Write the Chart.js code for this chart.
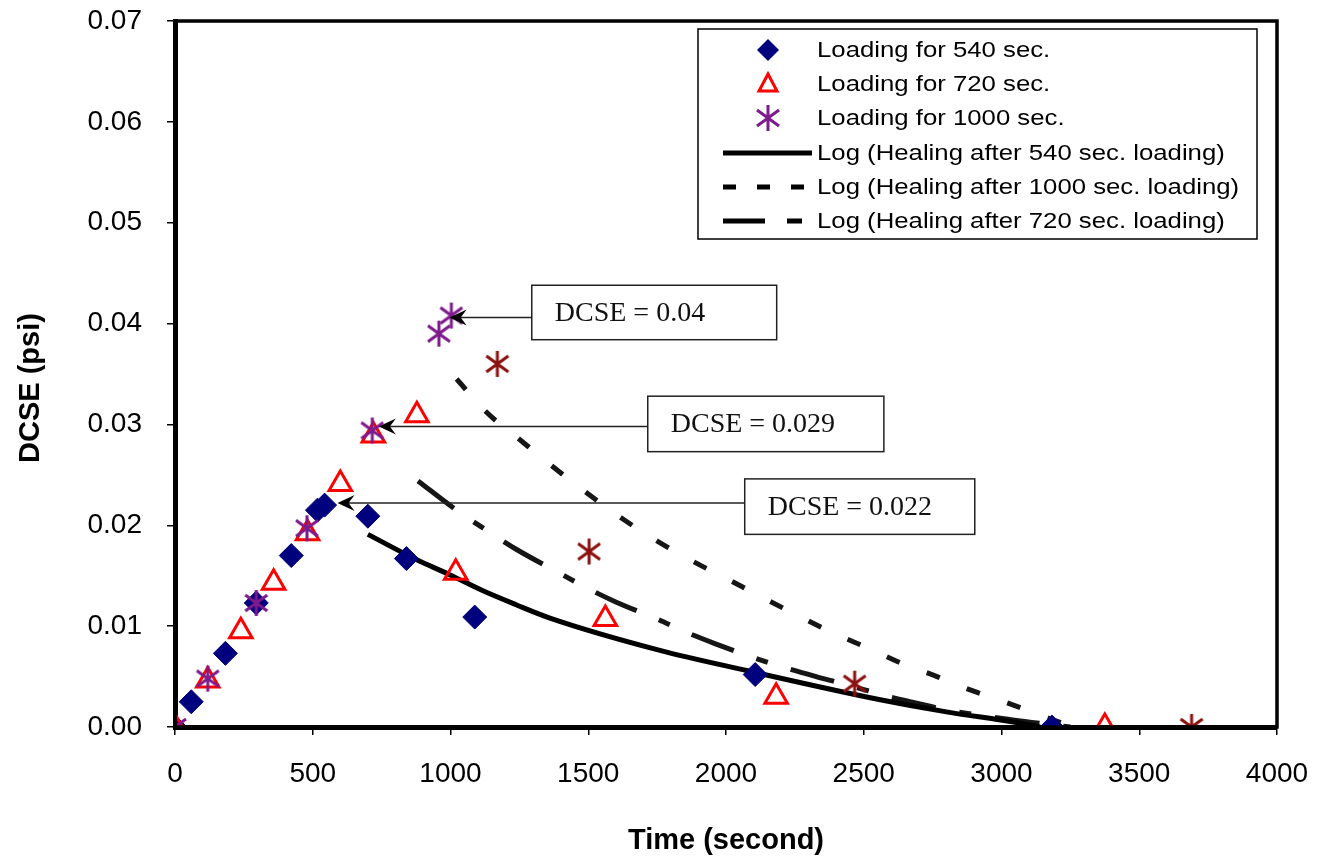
<!DOCTYPE html>
<html>
<head>
<meta charset="utf-8">
<script src="https://cdn.jsdelivr.net/npm/chart.js@4.4.1/dist/chart.umd.min.js"></script>
<style>
  body { margin: 0; background: #fff; }
  canvas { display: block; }
</style>
</head>
<body>
<canvas id="myChart" width="1318" height="859"></canvas>
<script>
// loading for 540 sec. (diamonds)
var time540 = [0, 59, 183, 295, 422, 517, 543, 700, 840, 1088, 2106, 3183];
var dcse540 = [0, 0.0025, 0.0073, 0.0123, 0.0170, 0.0215, 0.0220, 0.0209, 0.0167, 0.0109, 0.0052, 0];

// loading for 720 sec. (triangles)
var time720 = [0, 119, 239, 358, 481, 600, 720, 878, 1019, 1562, 2182, 3375];
var dcse720 = [0, 0.0046, 0.0095, 0.0143, 0.0192, 0.0241, 0.0289, 0.0309, 0.0153, 0.0107, 0.0030, 0];

// loading for 1000 sec. (stars)
var time1000 = [0, 119, 295, 479, 716, 958, 1003];
var dcse1000 = [0, 0.0048, 0.0123, 0.0197, 0.0294, 0.0390, 0.0408];

// healing after 1000 sec. (dark red stars)
var timeHeal1000 = [1170, 1503, 2467, 3690];
var dcseHeal1000 = [0.0360, 0.0174, 0.0043, 0];

// log trend lines
var fitTime540 = [700, 876, 997, 1118, 1240, 1361, 1760, 2075, 2560, 2800, 3043, 3140];
var fitDcse540 = [0.0191, 0.0166, 0.0151, 0.0135, 0.0121, 0.0108, 0.0076, 0.0056, 0.0027, 0.0015, 0.0005, 0];

var fitTime1000 = [1022, 1131, 1251, 1372, 1500, 1627, 1752, 1882, 2010, 2136, 2264, 2391, 2518, 2639, 2766, 2894, 3021, 3148, 3260];
var fitDcse1000 = [0.0345, 0.0312, 0.0285, 0.0258, 0.0231, 0.0206, 0.0184, 0.0164, 0.0146, 0.0128, 0.0110, 0.0093, 0.0078, 0.0063, 0.0050, 0.0036, 0.0024, 0.0011, 0];

var fitTime720 = [882, 1022, 1131, 1240, 1386, 1494, 1600, 1750, 1855, 1957, 2109, 2211, 2327, 2465, 2564, 2668, 2821, 3040, 3250];
var fitDcse720 = [0.0244, 0.0215, 0.0195, 0.0176, 0.0154, 0.0138, 0.0124, 0.0107, 0.0094, 0.0083, 0.0068, 0.0059, 0.0050, 0.0040, 0.0032, 0.0025, 0.0016, 0.0007, 0];

var xTicks = [0, 500, 1000, 1500, 2000, 2500, 3000, 3500, 4000];

var annotations = [
  { text: "DCSE = 0.04", x1: 1295, x2: 2184, yTop: 0.0438, yBot: 0.0384, arrowY: 0.0406, tipX: 997 },
  { text: "DCSE = 0.029", x1: 1716, x2: 2573, yTop: 0.0328, yBot: 0.0273, arrowY: 0.0298, tipX: 740 },
  { text: "DCSE = 0.022", x1: 2068, x2: 2903, yTop: 0.0246, yBot: 0.0191, arrowY: 0.0222, tipX: 590 }
];

function pts(xs, ys) {
  return xs.map(function (x, i) { return { x: x, y: ys[i] }; });
}

function starImage(color) {
  var c = document.createElement("canvas");
  c.width = 26;
  c.height = 28;
  var g = c.getContext("2d");
  g.strokeStyle = color;
  g.lineWidth = 3;
  g.beginPath();
  g.moveTo(13, 1); g.lineTo(13, 27);
  g.moveTo(2, 6); g.lineTo(24, 22);
  g.moveTo(24, 6); g.lineTo(2, 22);
  g.stroke();
  return c;
}

var purpleStar = starImage("#7d1a8c");
var redStar = starImage("#8b1010");

var lineColor = "#161616";

var datasets = [
  {
    label: "Loading for 540 sec.", mark: "diamond",
    data: pts(time540, dcse540),
    pointStyle: "rectRot", pointRadius: 12,
    backgroundColor: "#00007e", borderColor: "#00007e", borderWidth: 1,
    order: 3
  },
  {
    label: "Loading for 720 sec.", mark: "triangle",
    data: pts(time720, dcse720),
    pointStyle: "triangle", pointRadius: 13,
    backgroundColor: "rgba(255,255,255,0)", borderColor: "#ff0000", borderWidth: 3,
    order: 2
  },
  {
    label: "Loading for 1000 sec.", mark: "star",
    data: pts(time1000, dcse1000),
    pointStyle: purpleStar,
    order: 1
  },
  {
    label: "Healing after 1000 sec.", mark: null,
    data: pts(timeHeal1000, dcseHeal1000),
    pointStyle: redStar,
    order: 1
  },
  {
    label: "Log (Healing after 540 sec. loading)", mark: "solid",
    data: pts(fitTime540, fitDcse540),
    showLine: true, pointRadius: 0, borderColor: "#000", borderWidth: 5,
    cubicInterpolationMode: "monotone",
    order: 5
  },
  {
    label: "Log (Healing after 1000 sec. loading)", mark: "dash",
    data: pts(fitTime1000, fitDcse1000),
    showLine: true, pointRadius: 0, borderColor: lineColor, borderWidth: 5,
    borderDash: [14, 29], cubicInterpolationMode: "monotone",
    order: 5
  },
  {
    label: "Log (Healing after 720 sec. loading)", mark: "dashdot",
    data: pts(fitTime720, fitDcse720),
    showLine: true, pointRadius: 0, borderColor: lineColor, borderWidth: 5,
    borderDash: [45, 24, 12, 24], cubicInterpolationMode: "monotone",
    order: 5
  }
];

// legend box drawn inside the plot
var boxLegend = {
  id: "boxLegend",
  afterDraw: function (chart) {
    var ctx = chart.ctx;
    ctx.save();
    ctx.fillStyle = "#fff";
    ctx.fillRect(698, 29, 559, 210);
    ctx.strokeStyle = "#000";
    ctx.lineWidth = 1.5;
    ctx.strokeRect(698, 29, 559, 210);
    var rows = [50, 84, 118, 153, 187, 221];
    var order = [0, 1, 2, 4, 5, 6];
    order.forEach(function (di, i) {
      var ds = chart.data.datasets[di];
      var y = rows[i];
      var mx = 768;
      ctx.setLineDash([]);
      if (ds.mark === "diamond") {
        ctx.fillStyle = ds.backgroundColor;
        ctx.beginPath();
        ctx.moveTo(mx, y - 11); ctx.lineTo(mx + 11, y); ctx.lineTo(mx, y + 11); ctx.lineTo(mx - 11, y);
        ctx.closePath();
        ctx.fill();
      } else if (ds.mark === "triangle") {
        ctx.strokeStyle = ds.borderColor;
        ctx.lineWidth = 3;
        ctx.beginPath();
        ctx.moveTo(mx, y - 10); ctx.lineTo(mx + 9, y + 7); ctx.lineTo(mx - 9, y + 7);
        ctx.closePath();
        ctx.stroke();
      } else if (ds.mark === "star") {
        ctx.drawImage(purpleStar, mx - 13, y - 14);
      } else {
        ctx.strokeStyle = "#000";
        ctx.lineWidth = 5;
        if (ds.mark === "dash") ctx.setLineDash([13, 21]);
        if (ds.mark === "dashdot") ctx.setLineDash([42, 22, 15, 40]);
        ctx.beginPath();
        ctx.moveTo(723, y); ctx.lineTo(812, y);
        ctx.stroke();
        ctx.setLineDash([]);
      }
      ctx.fillStyle = "#000";
      ctx.font = "22px 'Liberation Sans', Arial, sans-serif";
      ctx.textBaseline = "middle";
      ctx.save();
      ctx.translate(817, y + 1);
      ctx.scale(1.17, 1);
      ctx.fillText(ds.label, 0, 0);
      ctx.restore();
    });

    // y axis title, sits a little below the plot centre
    ctx.save();
    ctx.translate(31, 388);
    ctx.rotate(-Math.PI / 2);
    ctx.fillStyle = "#000";
    ctx.font = "bold 29px 'Liberation Sans', Arial, sans-serif";
    ctx.textAlign = "center";
    ctx.textBaseline = "middle";
    ctx.fillText("DCSE (psi)", 0, 0);
    ctx.restore();
    ctx.restore();
  }
};

// frame and the DCSE callouts
var callouts = {
  id: "callouts",
  afterDatasetsDraw: function (chart) {
    var ctx = chart.ctx;
    var xs = chart.scales.x, ys = chart.scales.y;
    var a = chart.chartArea;
    ctx.save();
    ctx.strokeStyle = "#000";
    ctx.lineWidth = 3.5;
    ctx.strokeRect(a.left, a.top, a.right - a.left, a.bottom - a.top);

    annotations.forEach(function (n) {
      var bx1 = xs.getPixelForValue(n.x1), bx2 = xs.getPixelForValue(n.x2);
      var by1 = ys.getPixelForValue(n.yTop), by2 = ys.getPixelForValue(n.yBot);
      var ay = ys.getPixelForValue(n.arrowY);
      var tx = xs.getPixelForValue(n.tipX);
      ctx.fillStyle = "#fff";
      ctx.fillRect(bx1, by1, bx2 - bx1, by2 - by1);
      ctx.strokeStyle = "#222";
      ctx.lineWidth = 1.5;
      ctx.strokeRect(bx1, by1, bx2 - bx1, by2 - by1);
      ctx.beginPath();
      ctx.moveTo(bx1, ay);
      ctx.lineTo(tx + 10, ay);
      ctx.stroke();
      ctx.fillStyle = "#000";
      ctx.beginPath();
      ctx.moveTo(tx, ay);
      ctx.lineTo(tx + 17, ay - 8);
      ctx.lineTo(tx + 11, ay);
      ctx.lineTo(tx + 17, ay + 8);
      ctx.closePath();
      ctx.fill();
      ctx.fillStyle = "#111";
      ctx.font = "28px 'Liberation Serif', 'Times New Roman', serif";
      ctx.textBaseline = "middle";
      ctx.fillText(n.text, bx1 + 23, (by1 + by2) / 2 + 1);
    });
    ctx.restore();
  }
};

var ctx = document.getElementById("myChart").getContext("2d");
var myChart = new Chart(ctx, {
  type: "scatter",
  data: { datasets: datasets },
  options: {
    responsive: false,
    animation: false,
    devicePixelRatio: 1,
    layout: { padding: { left: 0, right: 41, top: 21, bottom: 0 } },
    plugins: {
      legend: { display: false },
      tooltip: { enabled: false }
    },
    scales: {
      x: {
        type: "linear",
        min: 0,
        max: 4000,
        afterFit: function (s) { s.height = 132; s.paddingLeft = 0; s.paddingRight = 0; },
        afterBuildTicks: function (s) { s.ticks = xTicks.map(function (v) { return { value: v }; }); },
        ticks: {
          padding: 22,
          color: "#000",
          font: { family: "'Liberation Sans', Arial, sans-serif", size: 28 },
          callback: function (v) { return String(v); }
        },
        grid: { drawOnChartArea: false, drawTicks: true, tickLength: 8, color: "#000", lineWidth: 1.5 },
        border: { display: true, color: "#000", width: 5 },
        title: {
          display: true,
          text: "Time (second)",
          color: "#000",
          padding: { top: 0, bottom: 1 },
          font: { family: "'Liberation Sans', Arial, sans-serif", size: 29, weight: "bold" }
        }
      },
      y: {
        min: 0,
        max: 0.07,
        afterFit: function (s) { s.width = 175; s.paddingTop = 0; s.paddingBottom = 0; },
        ticks: {
          stepSize: 0.01,
          padding: 25,
          color: "#000",
          font: { family: "'Liberation Sans', Arial, sans-serif", size: 28 },
          callback: function (v) { return Number(v).toFixed(2); }
        },
        grid: { drawOnChartArea: false, drawTicks: true, tickLength: 8, color: "#000", lineWidth: 1.5 },
        border: { display: true, color: "#000", width: 5 }
      }
    }
  },
  plugins: [callouts, boxLegend]
});
</script>
</body>
</html>
